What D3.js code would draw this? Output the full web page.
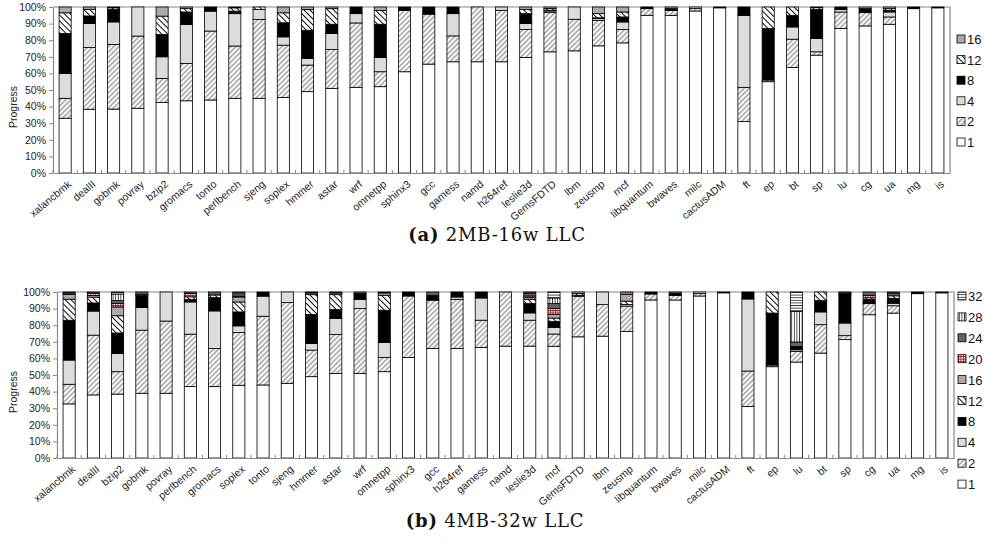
<!DOCTYPE html>
<html>
<head>
<meta charset="utf-8">
<script src="https://cdn.jsdelivr.net/npm/d3@7"></script>
<style>
  body { margin: 0; background: #fff; }
  text { font-family: "Liberation Sans", Arial, sans-serif; }
  text.cap { font-family: "DejaVu Serif", "Liberation Serif", serif; }
</style>
</head>
<body>
<div id="chart"></div>
<script>
// ---- panel (a) 2MB-16w LLC ----
const catsA = ['xalancbmk','dealII','gobmk','povray','bzip2','gromacs','tonto','perlbench','sjeng','soplex','hmmer','astar','wrf','omnetpp','sphinx3','gcc','gamess','namd','h264ref','leslie3d','GemsFDTD','lbm','zeusmp','mcf','libquantum','bwaves','milc','cactusADM','ft','ep','bt','sp','lu','cg','ua','mg','is']
const keysA = ['1','2','4','8','12','16']
const a1 = [33,38.4,38.5,39,42.5,43.5,44,45,45,45.5,49,51,51.6,52,61,65.6,67,67,67,69.6,73,73.6,76.6,78.4,95,95,97.6,99.5,31,55,63.6,71,87,88.6,89.6,99,99.5]
const a2 = [12,37.2,39,43.5,14.5,22.5,41.5,31.5,47.5,31.5,16,23.4,38.8,9,37,30,15.6,33,31,16.8,23.6,19,15.4,8,4,3,1.4,0,20.6,1,17,2,10,8,4.4,0,0]
const a4 = [15,14.4,13.5,17.5,13,23.5,12,19.5,6,5,4,9.6,5.6,8.6,0,0.5,13.4,0,2,3.6,1,7.4,1,4.6,0,0,1,0,43.4,0,7.4,8,1.5,0.4,3,0,0]
const a8 = [24,4.6,7.5,0,13.5,7.5,2,1.5,0,8.5,17,5.6,4,20,2,3.9,4,0,0,6,0.5,0,0.5,3,1,1,0,0.5,5,31,7,17.6,1.5,2,1,1,0.5]
const a12 = [12.5,4,1,0,11,2,0.5,2,1.5,6,12.5,9.4,0,8.4,0,0,0,0,0,2.5,1,0,2.5,3,0,0,0,0,0,13,5,1,0,0,1,0,0]
const a16 = [3.5,1.4,0.5,0,5.5,1,0,0.5,0,3.5,1.5,1,0,2,0,0,0,0,0,1.5,0.9,0,4,3,0,1,0,0,0,0,0,0.4,0,1,1,0,0]

// ---- panel (b) 4MB-32w LLC ----
const catsB = ['xalancbmk','dealII','bzip2','gobmk','povray','perlbench','gromacs','soplex','tonto','sjeng','hmmer','astar','wrf','omnetpp','sphinx3','gcc','h264ref','gamess','namd','leslie3d','mcf','GemsFDTD','lbm','zeusmp','libquantum','bwaves','milc','cactusADM','ft','ep','lu','bt','sp','cg','ua','mg','is']
const keysB = ['1','2','4','8','12','16','20','24','28','32']
const b1 = [32.6,38,38.5,39,39,43,43,43.8,44,45,49,51,51,52,60.6,66,66,66.6,67.4,67.4,67.3,73,73.4,76.3,95.2,95.2,97.6,99.5,31,55,57.8,63.2,71.3,86.3,87.3,99,99.5]
const b2 = [11.8,36,13.5,38,43.5,31.6,23,31.8,41.4,48.6,16,23.4,39,8.6,37,29,29.6,16.4,32.6,15.6,7.4,24.4,19,15.2,3.6,2.8,1.4,0,21.4,1,6.4,17.1,2.4,6.7,4.4,0,0]
const b4 = [14.6,14.5,11,13.6,17.5,19.4,22.6,4,12.1,6.4,4,9.6,5.6,9,0,0.5,1.4,13.4,0,4.4,4,0.6,7.6,1,0,0,1,0,43.4,0,1,7.7,7.6,0.5,1.5,0,0]
const b8 = [24,4.9,12.3,7.4,0,1.6,8,8.4,2.5,0,17.4,5.4,3.4,19.4,2.4,2.5,3,3.6,0,5.6,3.6,0,0,0,1.2,1,0,0.5,4.2,31.3,2,6.8,17.5,2,3,1,0.5]
const b12 = [12.7,3.5,10.4,0.6,0,1.5,1.6,6,0,0,12,9,0,9,0,0,0,0,0,2.6,2,1,0,2,0,0,0,0,0,12.7,0,5.2,0.6,1,1.5,0,0]
const b16 = [2.8,1,5.3,0,0,0,0,3,0,0,1,1,0,1.4,0,0,0,0,0,1,2.1,1,0,4,0,0,0,0,0,0,0,0,0.6,0,0,0,0]
const b20 = [0.8,1.4,2,0,0,2,0,0.5,0,0,0,0,0,0,0,0,0,0,0,1,3.6,0,0,1.5,0,0,0,0,0,0,0,0,0,1.5,0,0,0]
const b24 = [0,0.7,1.8,1.4,0,0.9,1.8,1.5,0,0,0,0,1,0,0,2,0,0,0,1.5,3,0,0,0,0,1,0,0,0,0,2.7,0,0,2,1.5,0,0]
const b28 = [0,0,4,0,0,0,0,0,0,0,0,0,0,0,0,0,0,0,0,0,3.4,0,0,0,0,0,0,0,0,0,18.4,0,0,0,0,0,0]
const b32 = [0.7,0,1.2,0,0,0,0,1,0,0,0.6,0.6,0,0.6,0,0,0,0,0,0.9,3.6,0,0,0,0,0,0,0,0,0,11.7,0,0,0,0.8,0,0]

const yTicks = d3.range(0, 101, 10)

var width = 987
var height = 544

var svg = d3.select('#chart')
  .append('svg')
    .attr('width', width)
    .attr('height', height)

// fills for each thread count
var defs = svg.append('defs')

function linePattern(id, size, angle, stroke, sw) {
  var p = defs.append('pattern')
    .attr('id', id)
    .attr('patternUnits', 'userSpaceOnUse')
    .attr('width', size).attr('height', size)
    .attr('patternTransform', 'rotate(' + angle + ')')
  p.append('rect').attr('width', size).attr('height', size).attr('fill', '#fff')
  p.append('line')
    .attr('x1', size / 2).attr('y1', 0).attr('x2', size / 2).attr('y2', size)
    .attr('stroke', stroke).attr('stroke-width', sw)
}
linePattern('p2', 3.6, 45, '#333', 0.7)
linePattern('p12', 4.2, -45, '#000', 1)
linePattern('p28', 2.6, 0, '#000', 0.7)
linePattern('p32', 2.6, 90, '#000', 0.7)

var grid = defs.append('pattern')
  .attr('id', 'p20')
  .attr('patternUnits', 'userSpaceOnUse')
  .attr('width', 2.5).attr('height', 2.5)
grid.append('rect').attr('width', 2.5).attr('height', 2.5).attr('fill', '#fff')
grid.append('path').attr('d', 'M0,0.5H2.5M0.5,0V2.5')
  .attr('stroke', '#b01818').attr('stroke-width', 0.9)

const fills = {
  '1': '#ffffff', '2': 'url(#p2)', '4': '#dcdcdc', '8': '#000000',
  '12': 'url(#p12)', '16': '#aaaaaa', '20': 'url(#p20)', '24': '#626262',
  '28': 'url(#p28)', '32': 'url(#p32)'
}

function panel(o) {
  var rows = o.cats.map(function(c, i) {
    var r = { name: c }
    o.keys.forEach(function(k, j) { r[k] = o.series[j][i] })
    return r
  })
  var stack = d3.stack().keys(o.keys)(rows)

  var x = d3.scaleBand().domain(o.cats).range([o.left, o.right]).paddingInner(0.5).paddingOuter(0.25)
  var y = d3.scaleLinear().domain([0, 100]).range([o.bottom, o.top])

  var g = svg.append('g')

  // frame
  g.append('path')
    .attr('d', 'M' + o.left + ',' + o.top + 'H' + o.right + 'V' + o.bottom)
    .attr('fill', 'none').attr('stroke', '#888').attr('stroke-width', 1.2)

  g.append('g').selectAll('g')
    .data(stack)
    .enter().append('g')
      .attr('fill', function(d) { return fills[d.key] })
    .selectAll('rect')
    .data(function(d) { return d.filter(function(s) { return s[1] - s[0] > 0 }) })
    .enter().append('rect')
      .attr('x', function(d) { return x(d.data.name) })
      .attr('width', x.bandwidth())
      .attr('y', function(d) { return y(d[1]) })
      .attr('height', function(d) { return y(d[0]) - y(d[1]) })
      .attr('stroke', '#000')
      .attr('stroke-width', 0.8)

  var ya = g.append('g')
    .attr('transform', 'translate(' + o.left + ',0)')
    .call(d3.axisLeft(y).tickValues(yTicks).tickFormat(function(d) { return d + '%' }).tickSize(4).tickSizeOuter(0))
  ya.select('.domain').attr('stroke', '#888').attr('stroke-width', 1.2)
  ya.selectAll('.tick line').attr('stroke', '#888')
  ya.selectAll('text').attr('font-size', 10.5).attr('fill', '#222')

  var xa = g.append('g')
    .attr('transform', 'translate(0,' + o.bottom + ')')
    .call(d3.axisBottom(x).tickSize(0).tickSizeOuter(0))
  xa.select('.domain').attr('stroke', '#888').attr('stroke-width', 1.2)
  xa.selectAll('text')
    .attr('font-size', 10.5).attr('fill', '#222')
    .attr('text-anchor', 'end')
    .attr('dy', 0)
    .attr('transform', 'translate(5,10) rotate(-40)')

  // small marks between the bars on the baseline
  g.append('g').selectAll('line')
    .data(o.cats)
    .enter().append('line')
      .attr('x1', function(d) { return x(d) - x.step() * 0.25 })
      .attr('x2', function(d) { return x(d) - x.step() * 0.25 })
      .attr('y1', o.bottom).attr('y2', o.bottom - 3)
      .attr('stroke', '#888')

  g.append('text')
    .attr('transform', 'translate(' + o.labelX + ',' + ((o.top + o.bottom) / 2 + 17) + ') rotate(-90)')
    .attr('text-anchor', 'middle')
    .attr('font-size', 10.5).attr('fill', '#222')
    .text('Progress')

  // legend, largest count on top
  var leg = g.append('g').selectAll('g')
    .data(o.keys.slice().reverse())
    .enter().append('g')
      .attr('transform', function(d, i) { return 'translate(' + o.legX + ',' + (o.legY + i * o.legStep) + ')' })
  leg.append('rect')
    .attr('x', 0).attr('y', -4).attr('width', 8).attr('height', 8)
    .attr('fill', function(d) { return fills[d] })
    .attr('stroke', '#000').attr('stroke-width', 0.8)
  leg.append('text')
    .attr('x', 10).attr('y', 5)
    .attr('font-size', 13).attr('fill', '#111')
    .text(function(d) { return d })

  var cap = g.append('text')
    .attr('class', 'cap')
    .attr('x', o.capX).attr('y', o.capY)
    .attr('text-anchor', 'middle')
    .attr('font-size', 18)
    .attr('letter-spacing', 0.8)
    .attr('fill', '#111')
  cap.append('tspan').attr('font-weight', 'bold').text(o.capTag)
  cap.append('tspan').text(' ' + o.capText)
}

panel({
  cats: catsA, keys: keysA, series: [a1, a2, a4, a8, a12, a16],
  left: 53, right: 950, top: 7, bottom: 173, labelX: 17,
  legX: 957, legY: 39, legStep: 20.6,
  capX: 497, capY: 241, capTag: '(a)', capText: '2MB-16w LLC'
})

panel({
  cats: catsB, keys: keysB, series: [b1, b2, b4, b8, b12, b16, b20, b24, b28, b32],
  left: 57, right: 954, top: 292, bottom: 458, labelX: 17,
  legX: 958, legY: 296, legStep: 20.9,
  capX: 495, capY: 527, capTag: '(b)', capText: '4MB-32w LLC'
})
</script>
</body>
</html>
